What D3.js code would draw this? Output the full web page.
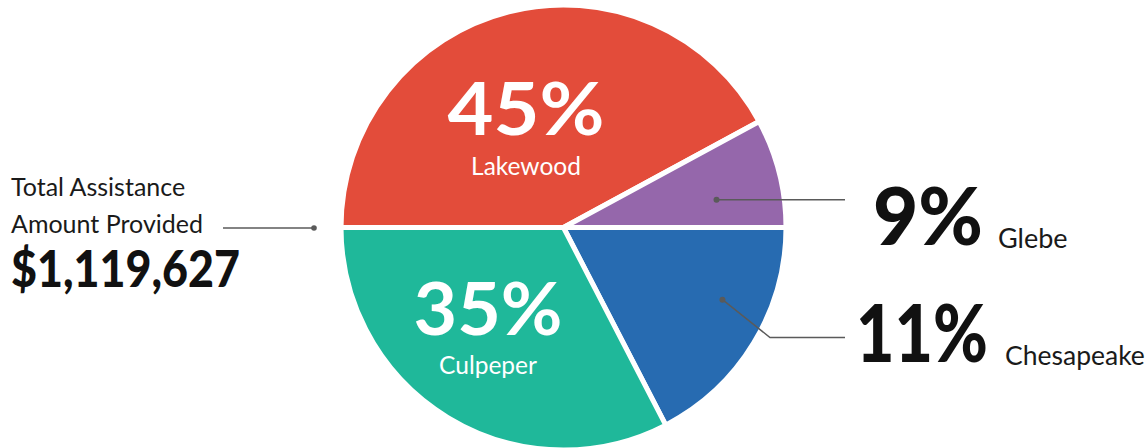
<!DOCTYPE html>
<html>
<head>
<meta charset="utf-8">
<script src="https://cdn.jsdelivr.net/npm/d3@7"></script>
<style>
  html, body { margin: 0; padding: 0; background: #fff; }
  svg { display: block; font-family: Lato, "Open Sans", sans-serif; }
</style>
</head>
<body>
<svg id="chart" width="1148" height="448"></svg>
<script>
// ---- data ----
const regions = ["Lakewood", "Glebe", "Chesapeake", "Culpeper"];
const percentLabels = ["45%", "9%", "11%", "35%"];
// angular share of each slice as drawn in the picture (percent of the circle)
const sliceShares = [42.1, 7.9, 17.4, 32.6];
const colors = ["#E34C3A", "#9567AB", "#276BB1", "#1FB89A"];
const totalTitle = ["Total Assistance", "Amount Provided"];
const totalAmount = "$1,119,627";

// ---- layout ----
const svg = d3.select("#chart");
const cx = 563.5, cy = 227.5, R = 222.5;

const data = regions.map((r, i) => ({ region: r, label: percentLabels[i], share: sliceShares[i], color: colors[i] }));

const pie = d3.pie().sort(null).value(d => d.share)
  .startAngle(-Math.PI / 2).endAngle(3 * Math.PI / 2);
const arc = d3.arc().innerRadius(0).outerRadius(R);

const g = svg.append("g").attr("transform", `translate(${cx},${cy})`);
const arcs = pie(data);

g.selectAll("path.slice").data(arcs).join("path")
  .attr("class", "slice")
  .attr("d", arc)
  .attr("fill", d => d.data.color)
  .attr("stroke", "#fff")
  .attr("stroke-width", 5)
  .attr("stroke-linejoin", "round");

// polar helper (angle in radians clockwise from 12 o'clock)
const polar = (a, r) => [Math.sin(a) * r, -Math.cos(a) * r];

// inner labels (Lakewood, Culpeper)
const inner = [
  { i: 0, x: 526, yBig: 135, ySmall: 174.5, w: 157 },
  { i: 3, x: 488, yBig: 335, ySmall: 373.5, w: 149 }
];
inner.forEach(o => {
  svg.append("text").attr("x", o.x).attr("y", o.yBig)
    .attr("text-anchor", "middle").attr("fill", "#fff")
    .attr("font-size", 73).attr("font-weight", 700)
    .attr("textLength", o.w).attr("lengthAdjust", "spacingAndGlyphs")
    .text(data[o.i].label);
  svg.append("text").attr("x", o.x).attr("y", o.ySmall)
    .attr("text-anchor", "middle").attr("fill", "#fff")
    .attr("font-size", 24.5).attr("font-weight", 400)
    .text(data[o.i].region);
});

// outer labels (Glebe, Chesapeake) with leader lines
const lineColor = "#5a5a5a";
// Glebe
{
  const a = arcs[1];
  const ang = a.startAngle + (a.endAngle - a.startAngle) * 0.64;
  const [dx, dy] = polar(ang, 155.5);
  const px = cx + dx, py = cy + dy;
  svg.append("line").attr("x1", px).attr("y1", py).attr("x2", 845).attr("y2", py)
    .attr("stroke", lineColor).attr("stroke-width", 1.5);
  svg.append("circle").attr("cx", px).attr("cy", py).attr("r", 3).attr("fill", lineColor);
  svg.append("text").attr("x", 873).attr("y", 245)
    .attr("font-size", 80).attr("font-weight", 900).attr("fill", "#111")
    .attr("textLength", 110).attr("lengthAdjust", "spacingAndGlyphs")
    .text(data[1].label);
  svg.append("text").attr("x", 998).attr("y", 248)
    .attr("font-size", 27).attr("fill", "#1a1a1a")
    .text(data[1].region);
}
// Chesapeake
{
  const a = arcs[2];
  const ang = a.startAngle + (a.endAngle - a.startAngle) * 0.39;
  const [dx, dy] = polar(ang, 174.6);
  const px = cx + dx, py = cy + dy;
  svg.append("polyline")
    .attr("points", `${px},${py} 770,337.5 845,337.5`)
    .attr("fill", "none").attr("stroke", lineColor).attr("stroke-width", 1.5);
  svg.append("circle").attr("cx", px).attr("cy", py).attr("r", 3).attr("fill", lineColor);
  svg.append("text").attr("x", 856).attr("y", 362)
    .attr("font-size", 80).attr("font-weight", 900).attr("fill", "#111")
    .attr("textLength", 132).attr("lengthAdjust", "spacingAndGlyphs")
    .text(data[2].label);
  svg.append("text").attr("x", 1005).attr("y", 365)
    .attr("font-size", 26.5).attr("fill", "#1a1a1a")
    .text(data[2].region);
}

// total block on the left
totalTitle.forEach((t, i) => {
  svg.append("text").attr("x", 11).attr("y", 196 + i * 36.5)
    .attr("font-size", 25).attr("fill", "#1a1a1a")
    .text(t);
});
svg.append("line").attr("x1", 223).attr("y1", 228).attr("x2", 314).attr("y2", 228)
  .attr("stroke", lineColor).attr("stroke-width", 1.5);
svg.append("circle").attr("cx", 314).attr("cy", 228).attr("r", 2.8).attr("fill", lineColor);
svg.append("text").attr("x", 11).attr("y", 286.5)
  .attr("font-size", 51).attr("font-weight", 900).attr("fill", "#111")
  .attr("textLength", 229).attr("lengthAdjust", "spacingAndGlyphs")
  .text(totalAmount);
</script>
</body>
</html>
